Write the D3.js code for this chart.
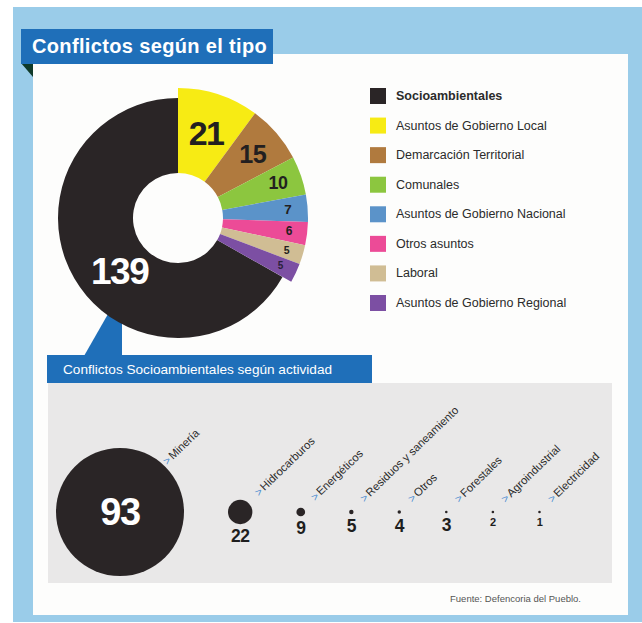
<!DOCTYPE html>
<html><head><meta charset="utf-8">
<script src="https://cdn.jsdelivr.net/npm/d3@7/dist/d3.min.js"></script>
<style>html,body{margin:0;padding:0;background:#fff;}svg{display:block;font-family:"Liberation Sans",Arial,sans-serif;}</style>
</head><body><svg id="c" width="642" height="623"></svg>
<script>
// ---- data ----
const title = "Conflictos según el tipo";
const subtitle = "Conflictos Socioambientales según actividad";
const source = "Fuente: Defencoria del Pueblo.";
const categories = ["Socioambientales","Asuntos de Gobierno Local","Demarcación Territorial","Comunales","Asuntos de Gobierno Nacional","Otros asuntos","Laboral","Asuntos de Gobierno Regional"];
const values = [139,21,15,10,7,6,5,5];
const colors = ["#2a2526","#f7eb14","#b07a3e","#8cc63f","#5b93c9","#ec4b97","#d0bd94","#7c4fa3"];
const activities = ["Minería","Hidrocarburos","Energéticos","Residuos y saneamiento","Otros","Forestales","Agroindustrial","Electricidad"];
const activityValues = [93,22,9,5,4,3,2,1];

const svg = d3.select("#c");
// background
svg.append("rect").attr("x",13).attr("y",7).attr("width",629).attr("height",615).attr("fill","#9acce9");
svg.append("rect").attr("x",33).attr("y",54).attr("width",595).attr("height",561).attr("fill","#fdfdfc");
// title banner
svg.append("polygon").attr("points","21,63 33,63 33,77").attr("fill","#0f3a2a");
svg.append("rect").attr("x",21).attr("y",29).attr("width",252).attr("height",35).attr("fill","#1f6fb9");
svg.append("text").attr("x",32).attr("y",53).attr("fill","#fff").attr("font-size",20).attr("letter-spacing",0.35).attr("font-weight","bold").text(title);

// pointer from pie to subtitle banner
svg.append("polygon").attr("points","84,356 116,300 122,300 122,356").attr("fill","#1f6fb9");

// ---- donut ----
const cx = 178, cy = 218;
const total = d3.sum(values);
const pie = d3.pie().sort(null).startAngle(-2*Math.PI*values[0]/total).endAngle(2*Math.PI - 2*Math.PI*values[0]/total);
const arcs = pie(values);
const g = svg.append("g").attr("transform",`translate(${cx},${cy})`);
const outerR = i => i === 0 ? 120 : 130;
g.selectAll("path").data(arcs).join("path")
  .attr("d",(d,i)=>d3.arc().innerRadius(45).outerRadius(outerR(i))(d))
  .attr("fill",(d,i)=>colors[i]);
const fontScale = d3.scaleLinear().domain([5,21]).range([10.5,34]).clamp(true);
const labelR = d3.scaleLinear().domain([5,21]).range([113,90]).clamp(true);
g.selectAll("text.v").data(arcs).join("text").attr("class","v")
  .each(function(d,i){
    const a = (d.startAngle+d.endAngle)/2 - (i===0 ? 0.21 : 0);
    let r = i===0 ? 79 : labelR(d.value);
    let fs = i===0 ? 37 : fontScale(d.value);
    if(i===values.length-1) fs = 10;
    d3.select(this).attr("x", r*Math.sin(a)).attr("y", -r*Math.cos(a))
      .attr("font-size", fs);
  })
  .attr("text-anchor","middle").attr("dominant-baseline","central")
  .attr("font-weight","bold")
  .attr("fill",(d,i)=> i===0 ? "#fff" : (i===values.length-1 ? "#2a1f3a" : "#231f20"))
  .attr("letter-spacing",(d,i)=> i<2 ? -1.5 : -0.5)
  .text(d=>d.value);

// ---- legend ----
const ly = d3.scalePoint().domain(categories).range([96,303]);
const lg = svg.append("g");
lg.selectAll("rect").data(categories).join("rect")
  .attr("x",370).attr("y",d=>ly(d)-8).attr("width",16).attr("height",16)
  .attr("fill",(d,i)=>colors[i]);
lg.selectAll("text").data(categories).join("text")
  .attr("x",396).attr("y",d=>ly(d)).attr("dominant-baseline","central")
  .attr("font-size",12.5).attr("fill","#2b2b2b")
  .attr("font-weight",(d,i)=>i===0?"bold":"normal")
  .text(d=>d);

// ---- subtitle banner & panel ----
svg.append("rect").attr("x",48).attr("y",383).attr("width",564).attr("height",200).attr("fill","#e9e8e8");
svg.append("rect").attr("x",47).attr("y",355).attr("width",325).attr("height",28).attr("fill","#1f6fb9");
svg.append("text").attr("x",63).attr("y",374).attr("fill","#fff").attr("font-size",13.6).text(subtitle);

// ---- bubbles ----
const rScale = d3.scalePow().exponent(1.15).domain([0,d3.max(activityValues)]).range([0,64]);
const rad = v => Math.max(1.3, rScale(v));
const gap = 44, by = 512;
const xs = [];
activityValues.forEach((v,i)=>{
  if(i===0) xs.push(120);
  else xs.push(xs[i-1] + rad(activityValues[i-1]) + rad(v) + gap);
});
const bg = svg.append("g");
bg.selectAll("circle").data(activityValues).join("circle")
  .attr("cx",(d,i)=>xs[i]).attr("cy",by).attr("r",d=>rad(d)).attr("fill","#2a2526");
bg.selectAll("text.n").data(activityValues).join("text").attr("class","n")
  .attr("x",(d,i)=>xs[i])
  .attr("y",(d,i)=> i===0 ? by : by + rad(d) + 5)
  .attr("dominant-baseline",(d,i)=> i===0 ? "central" : "hanging")
  .attr("text-anchor","middle").attr("font-weight","bold")
  .attr("font-size",(d,i)=> i===0 ? 38 : (d>=3 ? 17.5 : 11))
  .attr("letter-spacing",(d,i)=> i===0 ? -1.5 : -0.5)
  .attr("fill",(d,i)=> i===0 ? "#fff" : "#1e1e1e")
  .text(d=>d);
const lab = bg.selectAll("text.l").data(activities).join("text").attr("class","l")
  .attr("transform",(d,i)=>{
    const r = rad(activityValues[i]);
    return `translate(${xs[i] + 0.55*r + 12},${by - 0.6*r - 8}) rotate(-44)`;
  })
  .attr("font-size",11.3).attr("fill","#2a2a2a");
lab.append("tspan").attr("fill","#4a8bd0").attr("font-size",11).text(">");
lab.append("tspan").attr("dx",1.5).text(d=>d);

// source
svg.append("text").attr("x",581).attr("y",602).attr("text-anchor","end").attr("font-size",9.5).attr("fill","#555").text(source);
</script></body></html>
